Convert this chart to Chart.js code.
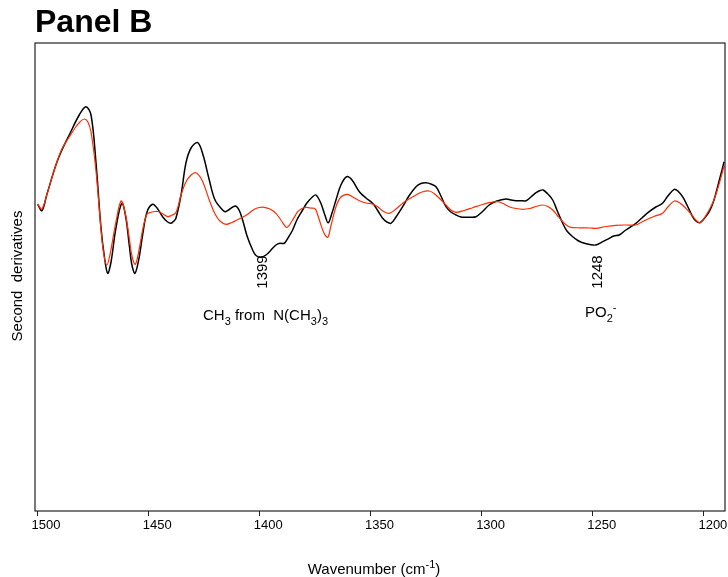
<!DOCTYPE html>
<html>
<head>
<meta charset="utf-8">
<script src="https://cdn.jsdelivr.net/npm/chart.js@4.4.1/dist/chart.umd.min.js"></script>
<style>
  html, body { margin: 0; padding: 0; background: #fff; }
  #wrap { position: relative; width: 728px; height: 577px; }
</style>
</head>
<body>
<div id="wrap"><canvas id="spectrumChart"></canvas></div>
<script>
// Wavenumber ticks along the bottom axis (cm-1)
const xTicks = [1500, 1450, 1400, 1350, 1300, 1250, 1200];

// Second-derivative spectrum, black trace
const blackWn = [1499.7, 1497.8, 1495.5, 1491.5, 1488.8, 1485.5, 1481.0, 1478.0, 1475.7, 1473.5,
  1471.2, 1469.6, 1468.2, 1466.7, 1464.5, 1461.8, 1460.0, 1458.5, 1457.3, 1455.9,
  1454.1, 1452.5, 1450.5, 1448.0, 1446.0, 1443.5, 1441.5, 1439.7, 1438.4, 1437.5,
  1435.2, 1433.0, 1430.7, 1427.7, 1425.3, 1422.5, 1419.9, 1416.5, 1415.3, 1413.2,
  1410.8, 1409.1, 1407.5, 1405.5, 1403.0, 1401.5, 1399.2, 1397.0, 1394.7, 1392.5,
  1390.7, 1388.8, 1387.1, 1385.0, 1383.1, 1380.5, 1378.6, 1376.0, 1374.5, 1372.3,
  1370.5, 1369.0, 1367.3, 1365.5, 1363.3, 1360.7, 1358.3, 1355.0, 1352.0, 1349.0,
  1346.6, 1344.5, 1342.6, 1340.8, 1338.5, 1335.5, 1332.7, 1329.5, 1327.3, 1325.0,
  1322.8, 1320.5, 1318.3, 1316.0, 1313.8, 1311.5, 1309.3, 1307.0, 1304.8, 1302.5,
  1299.8, 1296.6, 1293.1, 1289.0, 1286.8, 1284.5, 1282.3, 1280.0, 1277.8, 1275.5,
  1273.7, 1272.3, 1270.2, 1268.0, 1266.1, 1263.5, 1261.6, 1259.0, 1256.7, 1254.5,
  1251.3, 1248.6, 1245.5, 1242.6, 1240.5, 1238.1, 1235.1, 1230.6, 1227.9, 1224.6,
  1221.6, 1218.6, 1216.2, 1213.3, 1211.7, 1209.6, 1207.6, 1205.1, 1203.6, 1201.8,
  1200.0, 1197.6, 1195.9, 1194.6, 1192.8, 1190.9];
const blackVal = [0.057, -0.007, 0.16, 0.45, 0.60, 0.75, 0.95, 1.033, 0.95, 0.483,
  -0.18, -0.48, -0.633, -0.52, -0.18, 0.067, -0.08, -0.35, -0.55, -0.633,
  -0.48, -0.25, -0.02, 0.057, 0.02, -0.067, -0.115, -0.133, -0.11, -0.083,
  0.15, 0.47, 0.62, 0.673, 0.55, 0.30, 0.10, 0.00, -0.017, 0.01,
  0.04, 0.00, -0.10, -0.26, -0.40, -0.455, -0.473, -0.45, -0.40, -0.35,
  -0.333, -0.333, -0.28, -0.20, -0.10, 0.00, 0.07, 0.133, 0.15, 0.067,
  -0.05, -0.127, -0.03, 0.10, 0.25, 0.333, 0.30, 0.183, 0.12, 0.067,
  -0.01, -0.083, -0.12, -0.133, -0.07, 0.033, 0.14, 0.233, 0.265, 0.273,
  0.26, 0.233, 0.14, 0.033, -0.02, -0.05, -0.07, -0.073, -0.073, -0.067,
  -0.02, 0.05, 0.09, 0.11, 0.10, 0.093, 0.093, 0.093, 0.13, 0.173,
  0.195, 0.20, 0.16, 0.10, 0.00, -0.133, -0.21, -0.267, -0.305, -0.327,
  -0.345, -0.35, -0.317, -0.283, -0.26, -0.25, -0.20, -0.133, -0.08, -0.017,
  0.03, 0.067, 0.14, 0.207, 0.19, 0.133, 0.05, -0.067, -0.11, -0.127,
  -0.09, -0.017, 0.07, 0.167, 0.32, 0.483];

// Second-derivative spectrum, red trace
const redWn = [1499.7, 1497.8, 1495.5, 1491.5, 1488.8, 1485.5, 1482.9, 1480.7, 1478.7, 1477.1,
  1475.7, 1473.5, 1471.2, 1469.9, 1468.6, 1467.2, 1464.5, 1462.2, 1460.4, 1458.5,
  1457.3, 1455.8, 1454.1, 1452.3, 1450.5, 1448.7, 1446.9, 1445.1, 1443.3, 1441.2,
  1439.7, 1437.5, 1435.2, 1433.0, 1430.7, 1428.5, 1425.8, 1422.5, 1419.9, 1417.7,
  1415.0, 1412.3, 1410.0, 1407.5, 1405.1, 1402.4, 1400.1, 1397.8, 1395.2, 1392.5,
  1390.3, 1387.6, 1385.3, 1382.7, 1380.8, 1379.0, 1377.2, 1375.3, 1374.5, 1372.7,
  1370.9, 1369.2, 1367.8, 1365.5, 1363.3, 1360.3, 1357.9, 1355.0, 1352.0, 1349.0,
  1346.6, 1344.4, 1341.5, 1338.5, 1335.5, 1332.7, 1329.5, 1326.8, 1323.5, 1321.4,
  1319.0, 1316.0, 1313.8, 1311.5, 1307.9, 1304.0, 1300.3, 1296.6, 1292.8, 1290.4,
  1287.6, 1284.5, 1281.5, 1278.3, 1275.5, 1272.5, 1270.2, 1268.0, 1266.1, 1263.5,
  1261.6, 1259.8, 1255.8, 1251.3, 1248.6, 1244.1, 1239.6, 1235.1, 1230.6, 1228.3,
  1226.1, 1222.5, 1218.6, 1216.2, 1213.3, 1210.8, 1208.1, 1205.4, 1203.6, 1201.8,
  1199.5, 1196.1, 1193.7, 1190.9];
const redVal = [0.06, 0.01, 0.16, 0.45, 0.61, 0.73, 0.82, 0.88, 0.91, 0.88,
  0.78, 0.40, -0.20, -0.45, -0.55, -0.45, -0.12, 0.09, -0.02, -0.28,
  -0.46, -0.543, -0.40, -0.18, -0.04, -0.023, -0.015, -0.017, -0.04, -0.067,
  -0.055, -0.025, 0.15, 0.28, 0.35, 0.373, 0.30, 0.10, -0.04, -0.11,
  -0.143, -0.125, -0.10, -0.073, -0.04, 0.005, 0.025, 0.027, 0.01, -0.033,
  -0.10, -0.173, -0.11, -0.017, 0.015, 0.027, 0.02, 0.017, 0.00, -0.12,
  -0.23, -0.273, -0.16, 0.033, 0.13, 0.157, 0.13, 0.093, 0.07, 0.06,
  0.03, -0.01, -0.033, 0.01, 0.067, 0.11, 0.15, 0.18, 0.19, 0.165,
  0.117, 0.05, 0.00, -0.023, -0.005, 0.023, 0.05, 0.073, 0.083, 0.065,
  0.033, 0.015, 0.007, 0.015, 0.035, 0.05, 0.035, 0.00, -0.05, -0.117,
  -0.155, -0.173, -0.178, -0.18, -0.183, -0.165, -0.153, -0.15, -0.15, -0.125,
  -0.10, -0.065, -0.033, 0.03, 0.09, 0.07, 0.017, -0.05, -0.10, -0.127,
  -0.07, 0.067, 0.22, 0.44];

// Band positions marked under the curves (cm-1)
const bandMarks = [1399, 1248];

const FONT = '"Liberation Sans", Arial, Helvetica, sans-serif';

function toPoints(xs, ys) {
    return xs.map((x, i) => ({ x: x, y: ys[i] }));
}

// Draws text with subscript / superscript pieces, starting at x (left aligned)
function drawRich(ctx, parts, x, y, size) {
    let cx = x;
    parts.forEach(p => {
        const small = p[1] !== 'n';
        ctx.font = (small ? Math.round(size * 0.72) : size) + 'px ' + FONT;
        let dy = 0;
        if (p[1] === 'sub') dy = size * 0.3;
        if (p[1] === 'sup') dy = -size * 0.42;
        ctx.fillText(p[0], cx, y + dy);
        cx += ctx.measureText(p[0]).width;
    });
    return cx - x;
}

function richWidth(ctx, parts, size) {
    let w = 0;
    parts.forEach(p => {
        ctx.font = (p[1] !== 'n' ? Math.round(size * 0.72) : size) + 'px ' + FONT;
        w += ctx.measureText(p[0]).width;
    });
    return w;
}

// Frame, titles and band labels
const decorPlugin = {
    id: 'decor',
    afterDatasetsDraw(chart) {
        const ctx = chart.ctx;
        const area = chart.chartArea;
        const xs = chart.scales.x;
        ctx.save();

        ctx.strokeStyle = '#222';
        ctx.lineWidth = 1.2;
        ctx.strokeRect(area.left, area.top, area.right - area.left, area.bottom - area.top);

        ctx.fillStyle = '#000';
        ctx.textBaseline = 'alphabetic';
        ctx.textAlign = 'left';
        ctx.font = 'bold 32px ' + FONT;
        ctx.fillText('Panel B', 35, 32);

        // x axis title
        const xTitle = [['Wavenumber (cm', 'n'], ['-1', 'sup'], [')', 'n']];
        const w = richWidth(ctx, xTitle, 15);
        drawRich(ctx, xTitle, 374 - w / 2, 574, 15);

        // y axis title
        ctx.save();
        ctx.translate(18, 276);
        ctx.rotate(-Math.PI / 2);
        ctx.font = '15px ' + FONT;
        ctx.textAlign = 'center';
        ctx.textBaseline = 'middle';
        ctx.fillText('Second  derivatives', 0, 0);
        ctx.restore();

        // band positions, written vertically
        bandMarks.forEach(wn => {
            const px = xs.getPixelForValue(wn);
            ctx.save();
            ctx.translate(px + 1, 272);
            ctx.rotate(-Math.PI / 2);
            ctx.font = '15px ' + FONT;
            ctx.textAlign = 'center';
            ctx.textBaseline = 'middle';
            ctx.fillText(String(wn), 0, 0);
            ctx.restore();
        });

        ctx.textAlign = 'left';
        drawRich(ctx, [['CH', 'n'], ['3', 'sub'], [' from  N(CH', 'n'], ['3', 'sub'], [')', 'n'], ['3', 'sub']], 203, 320, 15);
        drawRich(ctx, [['PO', 'n'], ['2', 'sub'], ['-', 'sup']], 585, 317, 15);

        ctx.restore();
    }
};

function initChart() {
    const ctx = document.getElementById('spectrumChart').getContext('2d');
    new Chart(ctx, {
        type: 'line',
        data: {
            datasets: [
                {
                    label: 'red',
                    data: toPoints(redWn, redVal),
                    borderColor: 'rgb(255, 45, 0)',
                    borderWidth: 1.2,
                    pointRadius: 0,
                    tension: 0.35,
                    fill: false
                },
                {
                    label: 'black',
                    data: toPoints(blackWn, blackVal),
                    borderColor: '#000',
                    borderWidth: 1.5,
                    pointRadius: 0,
                    tension: 0.35,
                    fill: false
                }
            ]
        },
        options: {
            responsive: true,
            maintainAspectRatio: false,
            animation: false,
            layout: { padding: { left: 35, top: 43, right: 3, bottom: 0 } },
            plugins: {
                legend: { display: false },
                tooltip: { enabled: false }
            },
            scales: {
                x: {
                    type: 'linear',
                    reverse: true,
                    min: 1190.5,
                    max: 1500.9,
                    afterBuildTicks: function(scale) {
                        scale.ticks = xTicks.map(v => ({ value: v }));
                    },
                    afterFit: function(scale) {
                        scale.height = 66;
                    },
                    border: { display: false },
                    grid: {
                        drawOnChartArea: false,
                        drawTicks: true,
                        tickLength: 5,
                        color: '#222'
                    },
                    ticks: {
                        color: '#000',
                        padding: 2,
                        labelOffset: 9,
                        maxRotation: 0,
                        font: { family: FONT, size: 13 },
                        callback: function(value) { return value; }
                    }
                },
                y: {
                    display: false,
                    min: -3.01,
                    max: 1.67
                }
            }
        },
        plugins: [decorPlugin]
    });
}

document.addEventListener('DOMContentLoaded', initChart);
</script>
</body>
</html>
